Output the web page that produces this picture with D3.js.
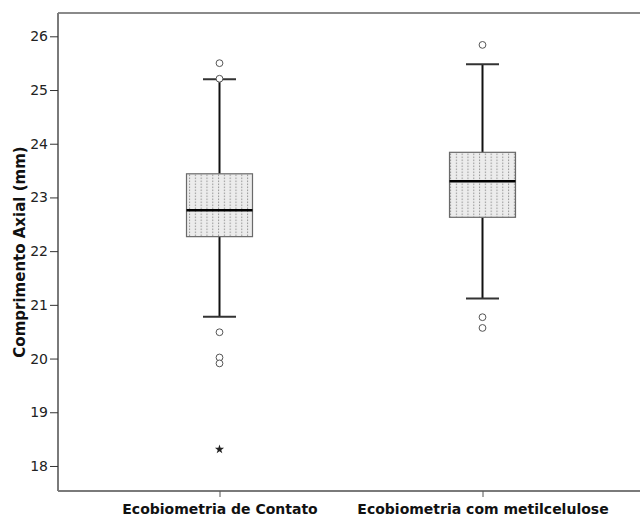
<!DOCTYPE html>
<html>
<head>
<meta charset="utf-8">
<script src="https://cdn.jsdelivr.net/npm/d3@7"></script>
<style>
  html, body { margin: 0; padding: 0; background: #fff; }
  svg { display: block; }
  text { font-family: "DejaVu Sans", "Liberation Sans", sans-serif; }
</style>
</head>
<body>
<svg id="chart" width="640" height="517"></svg>
<script>
// Axial length (mm) measured by two ultrasound biometry techniques
const categories = ["Ecobiometria de Contato", "Ecobiometria com metilcelulose"];
const whiskerLow  = [20.78, 21.12];
const q1          = [22.27, 22.63];
const medians     = [22.76, 23.30];
const q3          = [23.44, 23.84];
const whiskerHigh = [25.20, 25.48];
const outliers    = [[25.50, 25.21, 20.49, 20.02, 19.91], [25.84, 20.77, 20.57]];
const extremes    = [[18.31], []];
const yTicks      = [18, 19, 20, 21, 22, 23, 24, 25, 26];
const yTitle      = "Comprimento Axial (mm)";

const svg = d3.select("#chart");
const plotLeft = 58, plotTop = 13, plotRight = 641, plotBottom = 491;

const x = d3.scalePoint().domain(categories).range([219.5, 482.5]);
const y = d3.scaleLinear().domain([17.534, 26.434]).range([plotBottom, plotTop]);

// Dotted fill used inside the boxes
const defs = svg.append("defs");
const pat = defs.append("pattern")
  .attr("id", "dots").attr("patternUnits", "userSpaceOnUse")
  .attr("width", 5.8).attr("height", 3).attr("x", 1.5).attr("y", 0);
pat.append("rect").attr("width", 5.8).attr("height", 3).attr("fill", "#ececec");
pat.append("rect").attr("x", 2).attr("y", 0.5).attr("width", 1).attr("height", 1.6).attr("fill", "#9a9a9a");

// Frame
svg.append("line").attr("x1", plotLeft).attr("x2", plotRight).attr("y1", plotTop).attr("y2", plotTop)
  .attr("stroke", "#8a8a8a").attr("stroke-width", 2);

const boxW = 66, capW = 33;
const g = svg.append("g");

categories.forEach((c, i) => {
  const cx = x(c);
  // whiskers
  g.append("line").attr("x1", cx).attr("x2", cx)
    .attr("y1", y(whiskerHigh[i])).attr("y2", y(q3[i]))
    .attr("stroke", "#111").attr("stroke-width", 2);
  g.append("line").attr("x1", cx).attr("x2", cx)
    .attr("y1", y(q1[i])).attr("y2", y(whiskerLow[i]))
    .attr("stroke", "#111").attr("stroke-width", 2);
  [whiskerHigh[i], whiskerLow[i]].forEach(v => {
    g.append("line").attr("x1", cx - capW / 2).attr("x2", cx + capW / 2)
      .attr("y1", y(v)).attr("y2", y(v))
      .attr("stroke", "#333").attr("stroke-width", 2);
  });
  // box
  g.append("rect").attr("x", cx - boxW / 2).attr("y", y(q3[i]))
    .attr("width", boxW).attr("height", y(q1[i]) - y(q3[i]))
    .attr("fill", "url(#dots)").attr("stroke", "#6a6a6a").attr("stroke-width", 1.2);
  // median
  g.append("line").attr("x1", cx - boxW / 2).attr("x2", cx + boxW / 2)
    .attr("y1", y(medians[i])).attr("y2", y(medians[i]))
    .attr("stroke", "#000").attr("stroke-width", 2.6);
  // outliers
  outliers[i].forEach(v => {
    g.append("circle").attr("cx", cx).attr("cy", y(v)).attr("r", 3.4)
      .attr("fill", "#fff").attr("stroke", "#555").attr("stroke-width", 1);
  });
  // extreme values
  extremes[i].forEach(v => {
    g.append("path").attr("transform", `translate(${cx},${y(v)})`)
      .attr("d", d3.symbol(d3.symbolStar, 26)())
      .attr("fill", "#222");
  });
});

// Y axis
const yAxis = svg.append("g").attr("transform", `translate(${plotLeft},0)`)
  .call(d3.axisLeft(y).tickValues(yTicks).tickSize(8).tickPadding(2).tickFormat(d3.format("d")));
yAxis.select(".domain").attr("stroke", "#7a7a7a").attr("stroke-width", 2)
  .attr("d", `M0,${plotTop}V${plotBottom}`);
yAxis.selectAll(".tick line").attr("stroke", "#333").attr("stroke-width", 1);
yAxis.selectAll(".tick text").attr("font-size", 14).attr("fill", "#222")
  .attr("font-family", "DejaVu Sans, sans-serif");

// X axis
const xAxis = svg.append("g").attr("transform", `translate(0,${plotBottom})`)
  .call(d3.axisBottom(x).tickSize(6).tickPadding(7));
xAxis.select(".domain").attr("stroke", "#7a7a7a").attr("stroke-width", 2)
  .attr("d", `M${plotLeft},0H${plotRight}`);
xAxis.selectAll(".tick line").attr("stroke", "#555").attr("stroke-width", 1);
xAxis.selectAll(".tick text").attr("font-size", 14).attr("font-weight", "bold")
  .attr("fill", "#111").attr("font-family", "DejaVu Sans, sans-serif");

// Y title
svg.append("text")
  .attr("transform", `translate(25,${(plotTop + plotBottom) / 2}) rotate(-90)`)
  .attr("text-anchor", "middle")
  .attr("font-size", 15).attr("font-weight", "bold").attr("fill", "#111")
  .text(yTitle);
</script>
</body>
</html>
